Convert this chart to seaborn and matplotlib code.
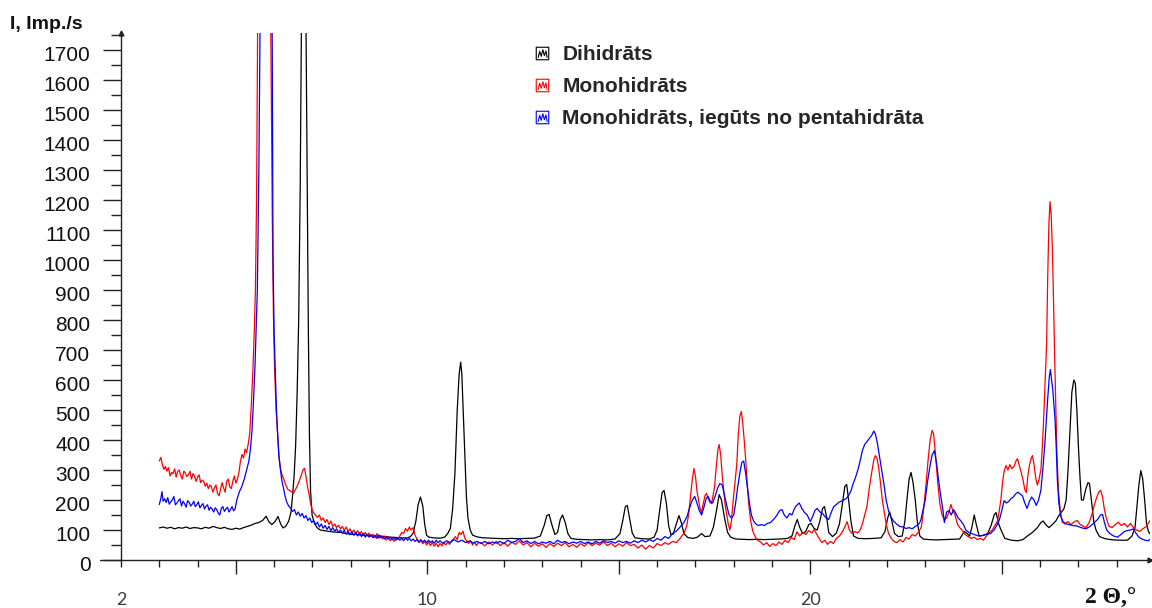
"""XRD patterns: dihydrate vs. monohydrate samples."""

import matplotlib

matplotlib.use("Agg")

import pandas as pd
import seaborn as sns
from matplotlib import pyplot as plt
from matplotlib.lines import Line2D
from matplotlib.path import Path
from matplotlib.transforms import ScaledTranslation

# ---- data (2 theta in degrees, intensity in imp./s) ----
series_labels = ["Dihidrāts", "Monohidrāts", "Monohidrāts, iegūts no pentahidrāta"]
series_colors = ["#000000", "#ff0000", "#0000ff"]

dih_x = [
    3.00, 3.10, 3.20, 3.30, 3.40, 3.50, 3.60, 3.70, 3.80, 3.90, 4.00, 4.10, 4.20, 4.30, 4.40,
    4.50, 4.60, 4.70, 4.80, 4.90, 5.00, 5.10, 5.20, 5.30, 5.40, 5.50, 5.60, 5.70, 5.79, 5.86,
    5.94, 6.02, 6.10, 6.17, 6.23, 6.30, 6.38, 6.44, 6.48, 6.52, 6.56, 6.60, 6.64, 6.68, 6.71,
    6.74, 6.77, 6.80, 6.83, 6.86, 6.89, 6.92, 6.95, 6.99, 7.05, 7.12, 7.20, 7.30, 7.40, 7.50,
    7.60, 7.72, 7.85, 8.00, 8.15, 8.30, 8.45, 8.60, 8.75, 8.90, 9.05, 9.20, 9.35, 9.46, 9.56,
    9.63, 9.70, 9.76, 9.82, 9.88, 9.93, 9.98, 10.05, 10.15, 10.25, 10.35, 10.45, 10.53, 10.60,
    10.66, 10.72, 10.78, 10.83, 10.87, 10.90, 10.94, 10.98, 11.02, 11.06, 11.12, 11.18, 11.30,
    11.45, 11.60, 11.80, 12.00, 12.20, 12.40, 12.60, 12.80, 12.95, 13.05, 13.12, 13.18, 13.25,
    13.33, 13.40, 13.47, 13.53, 13.60, 13.67, 13.75, 13.90, 14.10, 14.30, 14.50, 14.70, 14.90,
    15.03, 15.10, 15.17, 15.22, 15.28, 15.35, 15.42, 15.60, 15.80, 15.92, 16.00, 16.07, 16.13,
    16.18, 16.24, 16.30, 16.36, 16.42, 16.50, 16.57, 16.63, 16.70, 16.80, 16.94, 17.05, 17.16,
    17.25, 17.38, 17.47, 17.55, 17.62, 17.68, 17.76, 17.84, 17.92, 18.05, 18.20, 18.40, 18.60,
    18.80, 19.00, 19.20, 19.40, 19.52, 19.60, 19.66, 19.72, 19.80, 19.88, 19.96, 20.02, 20.10,
    20.18, 20.25, 20.32, 20.37, 20.43, 20.48, 20.58, 20.68, 20.76, 20.83, 20.90, 20.95, 21.00,
    21.06, 21.13, 21.25, 21.45, 21.65, 21.85, 21.95, 22.02, 22.07, 22.12, 22.20, 22.30, 22.40,
    22.47, 22.53, 22.58, 22.63, 22.68, 22.74, 22.80, 22.86, 22.95, 23.10, 23.30, 23.50, 23.70,
    23.90, 24.02, 24.10, 24.16, 24.22, 24.28, 24.34, 24.41, 24.52, 24.63, 24.72, 24.80, 24.85,
    24.92, 24.98, 25.08, 25.25, 25.41, 25.55, 25.67, 25.80, 25.93, 26.02, 26.08, 26.15, 26.23,
    26.32, 26.41, 26.50, 26.56, 26.62, 26.68, 26.73, 26.78, 26.83, 26.88, 26.92, 26.96, 27.00,
    27.04, 27.08, 27.13, 27.19, 27.25, 27.29, 27.34, 27.40, 27.46, 27.55, 27.70, 27.90, 28.10,
    28.28, 28.40, 28.48, 28.53, 28.58, 28.63, 28.68, 28.73, 28.78, 28.83, 28.90, 28.95,
]
dih_y = [
    107, 110, 106, 109, 104, 108, 106, 110, 105, 108, 107, 104, 109, 106, 112,
    108, 105, 109, 104, 102, 106, 103, 108, 112, 116, 122, 125, 132, 146, 128,
    118, 128, 145, 120, 107, 112, 130, 160, 215, 280, 380, 560, 800, 1250, 1750,
    2300, 2600, 2300, 1800, 1300, 800, 420, 230, 150, 122, 108, 100, 98, 96, 94,
    93, 92, 89, 86, 85, 83, 82, 81, 79, 78, 76, 75, 74, 73, 78,
    90, 130, 185, 210, 180, 120, 82, 76, 74, 73, 73, 76, 88, 105,
    170, 290, 500, 620, 660, 620, 480, 340, 210, 140, 100, 83, 77,
    74, 73, 72, 71, 72, 71, 72, 73, 80, 115, 148, 152, 118,
    85, 92, 135, 150, 125, 88, 72, 69, 68, 67, 68, 67, 70,
    88, 130, 178, 182, 140, 90, 74, 71, 70, 76, 100, 170, 225,
    232, 190, 115, 85, 86, 120, 148, 125, 88, 75, 72, 76, 88,
    78, 80, 110, 165, 218, 200, 140, 92, 76, 70, 69, 68, 69,
    68, 69, 70, 72, 80, 115, 135, 110, 88, 95, 118, 122, 105,
    100, 130, 172, 178, 140, 92, 78, 90, 120, 180, 245, 252, 200,
    130, 80, 72, 71, 72, 74, 95, 140, 160, 135, 88, 78, 80,
    130, 210, 270, 292, 260, 200, 120, 80, 70, 68, 67, 68, 69,
    70, 95, 88, 80, 110, 150, 115, 80, 82, 88, 115, 150, 158,
    120, 100, 72, 66, 64, 68, 80, 92, 108, 125, 130, 118, 108,
    118, 130, 150, 160, 170, 200, 300, 430, 560, 600, 590, 500, 380,
    280, 200, 200, 235, 258, 255, 200, 130, 100, 78, 71, 67, 66,
    66, 80, 110, 180, 250, 298, 270, 200, 120, 95, 82, 80,
]

mono_x = [
    3.00, 3.04, 3.08, 3.12, 3.16, 3.20, 3.24, 3.28, 3.32, 3.36, 3.40, 3.44, 3.48, 3.52, 3.56,
    3.60, 3.64, 3.68, 3.72, 3.76, 3.80, 3.84, 3.88, 3.92, 3.96, 4.00, 4.04, 4.08, 4.12, 4.16,
    4.20, 4.24, 4.28, 4.32, 4.36, 4.40, 4.44, 4.48, 4.52, 4.56, 4.60, 4.64, 4.68, 4.72, 4.76,
    4.80, 4.84, 4.88, 4.92, 4.96, 5.00, 5.04, 5.08, 5.12, 5.16, 5.20, 5.24, 5.28, 5.32, 5.36,
    5.40, 5.44, 5.48, 5.51, 5.54, 5.57, 5.60, 5.66, 5.74, 5.82, 5.87, 5.91, 5.95, 5.98, 6.01,
    6.05, 6.09, 6.13, 6.17, 6.21, 6.25, 6.30, 6.35, 6.40, 6.45, 6.50, 6.55, 6.60, 6.65, 6.70,
    6.75, 6.79, 6.83, 6.87, 6.91, 6.95, 6.99, 7.03, 7.08, 7.13, 7.18, 7.23, 7.28, 7.33, 7.38,
    7.43, 7.48, 7.53, 7.58, 7.63, 7.68, 7.73, 7.78, 7.83, 7.88, 7.93, 7.98, 8.03, 8.08, 8.13,
    8.18, 8.23, 8.28, 8.33, 8.38, 8.43, 8.48, 8.53, 8.58, 8.63, 8.68, 8.73, 8.78, 8.83, 8.88,
    8.93, 8.98, 9.03, 9.08, 9.13, 9.18, 9.23, 9.28, 9.33, 9.38, 9.43, 9.48, 9.53, 9.58, 9.63,
    9.68, 9.73, 9.78, 9.83, 9.88, 9.93, 9.98, 10.03, 10.08, 10.13, 10.18, 10.23, 10.28, 10.33,
    10.38, 10.43, 10.48, 10.53, 10.58, 10.63, 10.68, 10.73, 10.78, 10.83, 10.88, 10.93, 10.98,
    11.03, 11.08, 11.13, 11.18, 11.23, 11.28, 11.33, 11.40, 11.50, 11.60, 11.70, 11.80, 11.90,
    12.00, 12.10, 12.20, 12.30, 12.40, 12.50, 12.60, 12.70, 12.80, 12.90, 13.00, 13.10, 13.20,
    13.30, 13.40, 13.50, 13.60, 13.70, 13.80, 13.90, 14.00, 14.10, 14.20, 14.30, 14.40, 14.50,
    14.60, 14.70, 14.80, 14.90, 15.00, 15.10, 15.20, 15.30, 15.40, 15.50, 15.60, 15.70, 15.80,
    15.90, 16.00, 16.10, 16.20, 16.30, 16.40, 16.50, 16.60, 16.70, 16.77, 16.82, 16.87, 16.92,
    16.96, 17.00, 17.04, 17.08, 17.12, 17.16, 17.20, 17.25, 17.29, 17.33, 17.38, 17.42, 17.46,
    17.50, 17.55, 17.59, 17.62, 17.66, 17.70, 17.74, 17.78, 17.82, 17.86, 17.90, 17.94, 17.98,
    18.03, 18.08, 18.12, 18.16, 18.20, 18.24, 18.28, 18.32, 18.36, 18.40, 18.45, 18.50, 18.56,
    18.62, 18.70, 18.78, 18.86, 18.94, 19.02, 19.10, 19.18, 19.26, 19.34, 19.42, 19.50, 19.58,
    19.65, 19.72, 19.80, 19.88, 19.96, 20.04, 20.10, 20.17, 20.24, 20.30, 20.38, 20.45, 20.52,
    20.60, 20.68, 20.76, 20.84, 20.90, 20.96, 21.02, 21.09, 21.16, 21.24, 21.30, 21.36, 21.42,
    21.48, 21.54, 21.60, 21.66, 21.70, 21.74, 21.78, 21.83, 21.88, 21.93, 21.98, 22.04, 22.10,
    22.18, 22.26, 22.34, 22.42, 22.50, 22.58, 22.66, 22.74, 22.82, 22.90, 22.96, 23.02, 23.08,
    23.13, 23.18, 23.22, 23.27, 23.32, 23.38, 23.44, 23.50, 23.56, 23.62, 23.67, 23.72, 23.78,
    23.84, 23.90, 23.96, 24.04, 24.12, 24.20, 24.28, 24.36, 24.45, 24.52, 24.60, 24.68, 24.75,
    24.82, 24.89, 24.94, 24.98, 25.02, 25.06, 25.11, 25.16, 25.21, 25.26, 25.32, 25.37, 25.41,
    25.45, 25.50, 25.55, 25.60, 25.64, 25.68, 25.72, 25.77, 25.80, 25.84, 25.89, 25.93, 25.97,
    26.02, 26.06, 26.10, 26.14, 26.17, 26.20, 26.23, 26.26, 26.29, 26.32, 26.35, 26.38, 26.41,
    26.44, 26.48, 26.53, 26.58, 26.65, 26.72, 26.80, 26.88, 26.97, 27.05, 27.13, 27.20, 27.28,
    27.35, 27.42, 27.48, 27.54, 27.58, 27.63, 27.68, 27.73, 27.80, 27.88, 27.96, 28.04, 28.12,
    28.20, 28.28, 28.36, 28.44, 28.52, 28.60, 28.68, 28.76, 28.84, 28.92, 28.96,
]
mono_y = [
    330, 342, 318, 302, 312, 296, 308, 280, 292, 288, 304, 276, 296, 300, 282,
    270, 296, 290, 278, 284, 296, 270, 288, 280, 262, 276, 284, 258, 266, 262,
    246, 256, 238, 250, 244, 226, 240, 250, 222, 214, 236, 258, 240, 226, 262,
    270, 244, 238, 262, 280, 256, 270, 292, 330, 352, 340, 370, 358, 385, 420,
    510, 620, 760, 900, 1200, 1800, 2600, 3600, 4200, 3600, 2600, 1800, 1150, 820, 640,
    500, 420, 340, 300, 282, 270, 252, 236, 232, 228, 222, 234, 246, 262, 280,
    300, 306, 280, 245, 220, 188, 168, 158, 150, 142, 150, 132, 140, 125, 135,
    118, 130, 112, 120, 108, 116, 104, 112, 98, 110, 95, 104, 90, 100, 88,
    98, 85, 95, 82, 92, 80, 90, 78, 86, 74, 88, 72, 82, 70, 80,
    66, 78, 64, 74, 62, 72, 68, 80, 92, 88, 105, 96, 110, 100, 108,
    82, 70, 58, 66, 54, 62, 50, 60, 48, 58, 46, 56, 44, 55,
    47, 58, 50, 60, 52, 64, 70, 78, 68, 92, 85, 96, 72,
    62, 55, 64, 50, 60, 48, 58, 58, 47, 60, 50, 62, 48,
    58, 46, 60, 52, 64, 50, 58, 44, 56, 46, 54, 42, 55,
    45, 56, 48, 58, 44, 52, 42, 55, 46, 58, 48, 56, 50,
    60, 48, 56, 44, 54, 46, 58, 48, 52, 40, 50, 36, 48,
    40, 55, 48, 58, 52, 62, 58, 72, 90, 112, 150, 210, 270,
    305, 280, 230, 200, 172, 158, 185, 215, 222, 205, 192, 188, 215,
    245, 320, 370, 385, 350, 280, 230, 180, 150, 118, 100, 130, 190,
    255, 320, 420, 480, 495, 450, 390, 320, 240, 175, 125, 95, 78,
    66, 60, 50, 58, 45, 55, 48, 60, 52, 66, 58, 75, 68,
    94, 80, 92, 85, 98, 90, 102, 85, 70, 58, 66, 52, 62,
    55, 72, 80, 95, 110, 128, 100, 88, 95, 90, 100, 120, 150,
    180, 240, 290, 335, 348, 340, 312, 260, 200, 160, 120, 90, 75,
    62, 58, 68, 60, 75, 70, 85, 80, 92, 110, 170, 250, 340,
    400, 432, 420, 350, 270, 190, 150, 135, 140, 160, 185, 165, 150,
    120, 108, 100, 85, 78, 72, 76, 68, 72, 66, 80, 92, 100,
    115, 130, 170, 205, 260, 295, 315, 300, 318, 305, 312, 330, 338,
    318, 295, 270, 235, 225, 280, 315, 340, 348, 320, 270, 250, 268,
    300, 380, 490, 620, 720, 950, 1120, 1195, 1150, 1040, 870, 680, 520,
    350, 230, 160, 126, 120, 128, 118, 126, 132, 118, 112, 108, 125,
    150, 185, 210, 228, 232, 210, 168, 140, 112, 108, 118, 126, 115,
    122, 110, 122, 108, 100, 95, 104, 110, 125, 142, 140,
]

penta_x = [
    3.00, 3.04, 3.07, 3.10, 3.14, 3.18, 3.22, 3.26, 3.30, 3.34, 3.38, 3.42, 3.46, 3.50, 3.54,
    3.58, 3.62, 3.66, 3.70, 3.74, 3.78, 3.82, 3.86, 3.90, 3.94, 3.98, 4.02, 4.06, 4.10, 4.14,
    4.18, 4.22, 4.26, 4.30, 4.34, 4.38, 4.42, 4.46, 4.50, 4.54, 4.58, 4.62, 4.66, 4.70, 4.74,
    4.78, 4.82, 4.86, 4.90, 4.94, 4.98, 5.02, 5.06, 5.10, 5.14, 5.18, 5.22, 5.26, 5.30, 5.34,
    5.38, 5.42, 5.46, 5.50, 5.56, 5.60, 5.63, 5.67, 5.74, 5.82, 5.88, 5.92, 5.95, 5.97, 6.00,
    6.03, 6.06, 6.09, 6.12, 6.16, 6.20, 6.24, 6.28, 6.33, 6.38, 6.43, 6.48, 6.53, 6.58, 6.63,
    6.68, 6.73, 6.78, 6.83, 6.88, 6.93, 6.98, 7.03, 7.08, 7.13, 7.18, 7.23, 7.28, 7.33, 7.38,
    7.43, 7.48, 7.53, 7.58, 7.63, 7.68, 7.73, 7.78, 7.83, 7.88, 7.93, 7.98, 8.03, 8.08, 8.13,
    8.18, 8.23, 8.28, 8.33, 8.38, 8.43, 8.48, 8.53, 8.58, 8.63, 8.68, 8.73, 8.78, 8.83, 8.88,
    8.93, 8.98, 9.03, 9.08, 9.13, 9.18, 9.23, 9.28, 9.33, 9.38, 9.43, 9.48, 9.53, 9.58, 9.63,
    9.68, 9.73, 9.78, 9.83, 9.88, 9.93, 9.98, 10.03, 10.08, 10.13, 10.18, 10.23, 10.28, 10.33,
    10.40, 10.50, 10.60, 10.70, 10.80, 10.90, 11.00, 11.10, 11.20, 11.30, 11.40, 11.50, 11.60,
    11.70, 11.80, 11.90, 12.00, 12.10, 12.20, 12.30, 12.40, 12.50, 12.60, 12.70, 12.80, 12.90,
    13.00, 13.10, 13.20, 13.30, 13.40, 13.50, 13.60, 13.70, 13.80, 13.90, 14.00, 14.10, 14.20,
    14.30, 14.40, 14.50, 14.60, 14.70, 14.80, 14.90, 15.00, 15.10, 15.20, 15.30, 15.40, 15.50,
    15.60, 15.70, 15.80, 15.90, 16.00, 16.10, 16.20, 16.30, 16.40, 16.50, 16.60, 16.70, 16.78,
    16.85, 16.92, 16.98, 17.04, 17.10, 17.16, 17.22, 17.28, 17.33, 17.39, 17.45, 17.52, 17.58,
    17.64, 17.70, 17.76, 17.82, 17.88, 17.94, 18.00, 18.05, 18.10, 18.16, 18.21, 18.26, 18.31,
    18.36, 18.41, 18.46, 18.52, 18.58, 18.64, 18.72, 18.80, 18.88, 18.96, 19.04, 19.12, 19.20,
    19.26, 19.32, 19.39, 19.46, 19.52, 19.58, 19.64, 19.71, 19.78, 19.85, 19.92, 20.00, 20.06,
    20.12, 20.18, 20.25, 20.32, 20.40, 20.48, 20.55, 20.61, 20.68, 20.74, 20.81, 20.87, 20.94,
    21.00, 21.06, 21.12, 21.18, 21.24, 21.30, 21.36, 21.42, 21.48, 21.54, 21.60, 21.66, 21.70,
    21.75, 21.80, 21.86, 21.92, 21.98, 22.04, 22.10, 22.17, 22.25, 22.33, 22.42, 22.50, 22.58,
    22.66, 22.74, 22.82, 22.88, 22.94, 23.00, 23.06, 23.12, 23.18, 23.24, 23.30, 23.35, 23.41,
    23.46, 23.50, 23.56, 23.62, 23.68, 23.74, 23.80, 23.86, 23.92, 24.00, 24.06, 24.14, 24.22,
    24.30, 24.40, 24.50, 24.60, 24.70, 24.80, 24.88, 24.94, 25.00, 25.06, 25.12, 25.18, 25.24,
    25.30, 25.36, 25.42, 25.48, 25.54, 25.60, 25.66, 25.72, 25.78, 25.84, 25.90, 25.96, 26.02,
    26.07, 26.12, 26.16, 26.20, 26.24, 26.27, 26.30, 26.33, 26.36, 26.39, 26.42, 26.45, 26.49,
    26.54, 26.60, 26.68, 26.76, 26.85, 26.94, 27.03, 27.12, 27.20, 27.28, 27.36, 27.44, 27.50,
    27.58, 27.63, 27.68, 27.74, 27.82, 27.92, 28.02, 28.12, 28.20, 28.28, 28.36, 28.44, 28.50,
    28.58, 28.66, 28.74, 28.82, 28.90, 28.96,
]
penta_y = [
    185, 205, 228, 196, 204, 192, 208, 186, 194, 200, 212, 184, 190, 198, 204,
    180, 196, 188, 176, 198, 192, 180, 186, 196, 178, 184, 194, 174, 182, 188,
    170, 180, 184, 166, 176, 170, 160, 174, 168, 156, 150, 172, 178, 162, 170,
    176, 160, 168, 178, 164, 170, 198, 215, 230, 240, 255, 270, 290, 310, 330,
    370, 430, 530, 650, 900, 1300, 1750, 2400, 3400, 3600, 3000, 2200, 1700, 1000, 750,
    620, 500, 420, 350, 305, 265, 242, 215, 192, 180, 172, 162, 168, 150, 160,
    146, 155, 140, 148, 132, 140, 125, 132, 118, 126, 110, 120, 106, 115, 102,
    112, 98, 108, 96, 104, 92, 100, 90, 98, 86, 96, 84, 94, 82, 92,
    80, 90, 78, 88, 76, 86, 76, 84, 74, 82, 72, 84, 74, 80, 70,
    78, 70, 76, 68, 76, 66, 74, 66, 72, 64, 74, 66, 72, 64, 70,
    62, 68, 60, 68, 60, 66, 58, 66, 58, 64, 56, 66, 58, 64,
    56, 64, 58, 68, 60, 66, 58, 64, 56, 62, 55, 62, 54,
    60, 56, 62, 54, 66, 58, 62, 72, 58, 64, 55, 62, 54,
    60, 56, 62, 54, 66, 58, 62, 54, 60, 56, 62, 55, 60,
    54, 62, 56, 64, 58, 62, 56, 64, 58, 62, 56, 64, 58,
    66, 60, 68, 62, 72, 66, 78, 72, 88, 96, 110, 125, 145,
    175, 200, 212, 190, 165, 150, 175, 205, 212, 195, 190, 215, 240,
    255, 250, 215, 180, 150, 140, 150, 190, 240, 290, 325, 330, 290,
    240, 190, 150, 130, 120, 115, 118, 115, 122, 125, 135, 148, 165,
    168, 150, 140, 155, 150, 170, 182, 190, 172, 158, 150, 128, 145,
    165, 172, 160, 155, 142, 135, 160, 178, 185, 192, 196, 200, 205,
    215, 230, 255, 275, 300, 330, 365, 385, 395, 405, 415, 430, 420,
    390, 350, 300, 255, 200, 165, 145, 130, 120, 112, 110, 105, 108,
    104, 112, 118, 130, 165, 200, 260, 310, 350, 365, 320, 265, 210,
    170, 125, 160, 165, 150, 168, 155, 140, 132, 118, 100, 92, 88,
    84, 80, 82, 86, 88, 100, 118, 135, 165, 198, 190, 195, 205,
    210, 220, 226, 220, 214, 190, 172, 195, 210, 200, 182, 200, 232,
    300, 380, 460, 540, 610, 635, 600, 570, 520, 470, 380, 270, 190,
    145, 128, 120, 118, 115, 114, 110, 106, 104, 110, 118, 128, 135,
    150, 152, 125, 100, 88, 80, 76, 86, 95, 98, 100, 104, 90,
    76, 70, 66, 64, 72, 76,
]

y_ticks = [0, 100, 200, 300, 400, 500, 600, 700, 800, 900, 1000, 1100, 1200, 1300, 1400, 1500, 1600, 1700]
x_ticks = [2, 5, 10, 15, 20, 25]
x_tick_labels = ["2", "", "10", "", "20", ""]

frames = []
for label, xs, ys in zip(series_labels, [dih_x, mono_x, penta_x], [dih_y, mono_y, penta_y]):
    frames.append(pd.DataFrame({"two_theta": xs, "counts": ys, "sample": label}))
patterns = pd.concat(frames, ignore_index=True)

sns.set_theme(style="white")
plt.rcParams["font.family"] = ["Liberation Sans", "DejaVu Sans"]

fig = plt.figure(figsize=(11.52, 6.08), dpi=100)
ax = fig.add_axes([121 / 1152, 1 - 560 / 608, 1029 / 1152, 527 / 608])

sns.lineplot(
    data=patterns,
    x="two_theta",
    y="counts",
    hue="sample",
    hue_order=series_labels,
    palette=dict(zip(series_labels, series_colors)),
    estimator=None,
    sort=False,
    linewidth=0.9,
    legend=False,
    ax=ax,
)

ax.set_xlim(2, 28.87)
ax.set_ylim(0, 1757)
ax.set_xlabel("")
ax.set_ylabel("")

for side in ["top", "right"]:
    ax.spines[side].set_visible(False)
for side in ["left", "bottom"]:
    ax.spines[side].set_color("#222222")
    ax.spines[side].set_linewidth(1.0)

# y axis: labelled every 100, minor ticks between
ax.set_yticks(y_ticks)
ax.set_yticklabels([str(v) for v in y_ticks])
ax.set_yticks([v + 50 for v in y_ticks], minor=True)
ax.tick_params(axis="y", which="major", direction="out", length=13, width=1.0,
               color="#222222", pad=9, labelsize=15, labelcolor="#111111", left=True)
ax.tick_params(axis="y", which="minor", direction="out", length=7, width=1.0,
               color="#222222", left=True)
shift_down = ScaledTranslation(0, -3.5 / 100, fig.dpi_scale_trans)
for lab in ax.get_yticklabels():
    lab.set_transform(lab.get_transform() + shift_down)

# x axis: minor tick each degree, long ticks every 5
ax.set_xticks(x_ticks)
ax.set_xticklabels(x_tick_labels, fontfamily="Lato", color="#3a3a3a")
ax.set_xticks(list(range(3, 29)), minor=True)
ax.tick_params(axis="x", which="major", direction="out", length=10, width=1.0,
               color="#222222", pad=13, labelsize=13, bottom=True)
ax.tick_params(axis="x", which="minor", direction="out", length=5, width=1.0,
               color="#222222", bottom=True)
ax.xaxis.get_major_ticks()[0].tick1line.set_markersize(5)

# axis extension to the left of the origin and small arrow heads
ax.plot([-0.02, 0], [0, 0], transform=ax.transAxes, clip_on=False, color="#222222", lw=1.0)
ax.plot([1], [0], marker=">", markersize=3.5, color="#222222", transform=ax.transAxes, clip_on=False)
ax.plot([0], [1], marker="^", markersize=3.5, color="#222222", transform=ax.transAxes, clip_on=False)

# legend with small "pattern" icons
icon = Path(
    [(-1, -1), (1, -1), (1, 1), (-1, 1), (-1, -1),
     (-0.7, -0.7), (-0.45, 0.35), (-0.2, -0.45), (0.05, 0.6), (0.3, -0.35), (0.55, 0.4), (0.75, -0.7)],
    [Path.MOVETO, Path.LINETO, Path.LINETO, Path.LINETO, Path.CLOSEPOLY,
     Path.MOVETO, Path.LINETO, Path.LINETO, Path.LINETO, Path.LINETO, Path.LINETO, Path.LINETO],
)
handles = [
    Line2D([], [], linestyle="none", marker=icon, markersize=9, markerfacecolor="none",
           markeredgecolor=c, markeredgewidth=0.8)
    for c in series_colors
]
fig.legend(
    handles, series_labels, loc="upper left", bbox_to_anchor=(532 / 1152, 1 - 45 / 608),
    frameon=False, handlelength=1.0, handletextpad=0.45, labelspacing=0.62,
    borderpad=0, borderaxespad=0, prop={"family": "Liberation Sans", "weight": "bold", "size": 15},
)

fig.text(10 / 1152, 1 - 29 / 608, "I, Imp./s", ha="left", va="baseline",
         fontsize=14, fontweight="bold", color="#111111")
fig.text(1085 / 1152, 1 - 598 / 608, "2 Θ,°", ha="left", va="center",
         fontsize=17, fontweight="bold", family="Liberation Serif", color="#111111")

fig.savefig("out.png", dpi=100)
plt.close(fig)
